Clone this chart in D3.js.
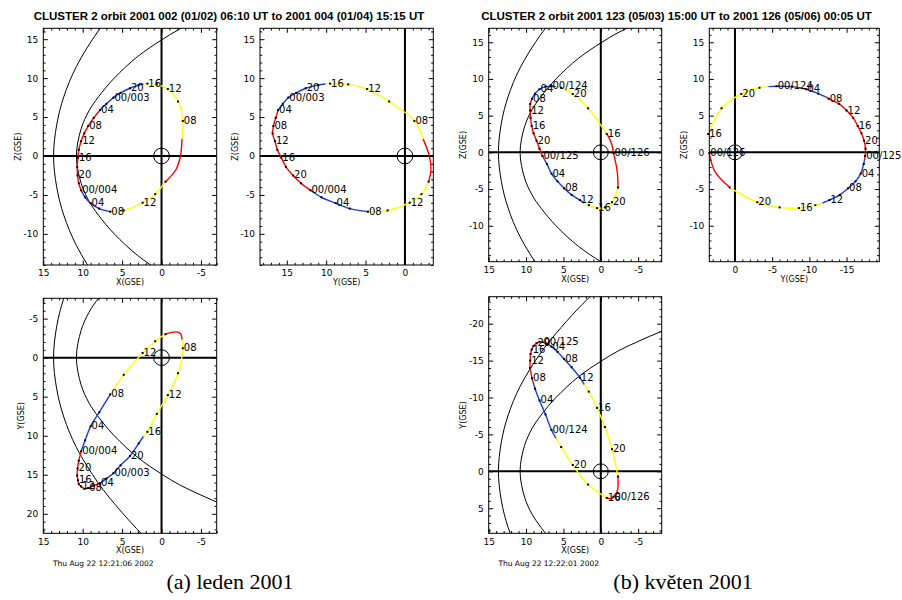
<!DOCTYPE html>
<html><head><meta charset="utf-8">
<script src="https://cdn.jsdelivr.net/npm/d3@7"></script>
<style>body{margin:0;background:#fff}svg{display:block}</style>
</head><body>
<svg id="c" width="902" height="600"></svg>
<script>
// ---------------- DATA ----------------
const titles = [
  "CLUSTER 2 orbit 2001 002 (01/02) 06:10 UT to 2001 004 (01/04) 15:15 UT",
  "CLUSTER 2 orbit 2001 123 (05/03) 15:00 UT to 2001 126 (05/06) 00:05 UT"
];
const dates = ["Thu Aug 22 12:21:06 2002", "Thu Aug 22 12:22:01 2002"];
const captions = ["(a) leden 2001", "(b) květen 2001"];

// January orbit: hours from 2001-002 00:00 UT, GSE position (RE)
const janHour = [6.17,6.6,7.0,7.4,8,10,12,14,16,16.7,18,20,22,24,26,28,30,32,34,36,38,40,42,44,46,48,50,52,54,56,58,60,62,63.25];
const janX = [-0.5,-1.8,-2.4,-2.6,-2.7,-2.1,-0.8,0.6,1.8,2.3,2.9,4.0,5.2,6.1,7.0,7.8,8.6,9.3,9.8,10.2,10.5,10.6,10.7,10.65,10.5,10.2,9.7,9.0,7.9,6.5,4.8,2.4,0.8,-0.5];
const janY = [-3.0,-3.3,-3.1,-2.3,-1.2,2.0,4.8,7.2,9.5,10.1,11.0,12.6,13.8,14.8,15.5,16.1,16.4,16.7,16.8,16.5,16.2,15.7,15.1,14.2,13.2,12.0,10.6,8.8,7.0,4.7,2.2,-0.6,-2.1,-3.0];
const janZ = [-3.3,-1.8,0.0,2.2,4.5,7.0,8.6,9.2,9.3,9.25,9.1,8.7,8.1,7.5,6.7,5.9,4.9,3.85,2.9,1.9,0.8,-0.2,-1.4,-2.5,-3.5,-4.4,-5.3,-6.05,-6.75,-7.15,-7.0,-6.0,-4.9,-3.3];
const janText = [null,null,null,null,"08","","12","","16",null,"","20","","00/003","","04","","08","","12","","16","","20","","00/004","","04","","08","","12","",""];
const janBreak = [6.17,7.4,16.7,28,48,56,63.25];
const janColor = ["red","yellow","blue","red","blue","yellow"];

// May orbit: hours from 2001-123 00:00 UT
const mayHour = [15,15.5,16,18,20,22,23,24,26,28,30,31.5,32,34,36,38,40,42,44,46,48,49,50,52,54,56,58,60,61,62,64,66,68,70,71,72.08];
const mayX = [-1.7,-1.4,-0.8,1.7,3.75,5.3,6.0,6.6,7.4,8.2,8.8,9.1,9.2,9.45,9.45,9.4,9.25,9.0,8.6,8.2,7.8,7.5,7.2,6.6,5.8,4.9,3.9,2.8,2.2,1.6,0.5,-0.55,-1.5,-2.3,-2.2,-1.7];
const mayY = [3.45,3.7,3.6,1.8,-0.85,-3.3,-4.5,-5.6,-7.7,-9.6,-11.2,-12.2,-12.6,-14.0,-15.0,-15.9,-16.5,-17.0,-17.35,-17.55,-17.5,-17.4,-17.3,-16.9,-16.2,-15.2,-14.1,-12.7,-11.75,-10.8,-8.6,-6.0,-3.0,0.7,2.7,3.45];
const mayZ = [-0.1,1.3,2.5,6.0,7.95,8.8,8.95,9.0,8.95,8.6,8.0,7.55,7.3,6.6,5.7,4.7,3.6,2.6,1.6,0.5,-0.5,-1.05,-1.6,-2.9,-3.95,-4.9,-5.8,-6.5,-6.9,-7.2,-7.6,-7.5,-6.8,-4.8,-2.6,-0.1];
const mayText = [null,null,"16","","20","",null,"00/124","","04","",null,"08","","12","","16","","20","","00/125",null,"","04","","08","","12",null,"","16","","20","",null,"00/126"];
const mayBreak = [15,16,23,31.5,49,61,70,72.08];
const mayColor = ["red","yellow","blue","red","blue","yellow","red"];

// model boundaries (axisymmetric): distance along X vs radial distance
const bsX = [13.7,13.3,12.4,10.8,8.0,5.3,2.5,0.0];
const bsR = [0,4,7.6,11.5,16.1,19.5,22.6,25.0];
const mpX = [10.8,10.2,9.2,8.0,6.0,3.0,0.0,-2.3,-5.0,-8.0,-11.0];
const mpR = [0,3.5,5.8,7.6,10.0,12.8,14.9,16.3,17.6,18.9,19.9];

// ---------------- STYLE / LAYOUT ----------------
const COLORS = {red:"#ff0000", yellow:"#ffff00", blue:"#1a3cd8"};
const SANS = "'DejaVu Sans', sans-serif";
const panels = [
  {orb:0, h:"X", v:"Z", l:43.3, r:216.7, t:28.3, b:265,   xd:[15,-7.0],   yd:[16.4,-14.0], xt:"X(GSE)", yt:"Z(GSE)", bnd:true},
  {orb:0, h:"Y", v:"Z", l:260,  r:433.3, t:28.3, b:265,   xd:[18.4,-3.6], yd:[16.4,-14.0], xt:"Y(GSE)", yt:"Z(GSE)", bnd:false},
  {orb:0, h:"X", v:"Y", l:43.3, r:216.7, t:298.3, b:533.3, xd:[15,-7.0],  yd:[-7.6,22.5],  xt:"X(GSE)", yt:"Y(GSE)", bnd:true, date:0},
  {orb:1, h:"X", v:"Z", l:488.7, r:661.7, t:28.3, b:261.7, xd:[15,-8.15], yd:[16.9,-14.9], xt:"X(GSE)", yt:"Z(GSE)", bnd:true},
  {orb:1, h:"Y", v:"Z", l:709.3, r:879.3, t:28.3, b:261.7, xd:[3.45,-19.4], yd:[16.9,-14.9], xt:"Y(GSE)", yt:"Z(GSE)", bnd:false},
  {orb:1, h:"X", v:"Y", l:488.7, r:661.7, t:296.7, b:533.3, xd:[15,-8.15], yd:[-23.66,8.4], xt:"X(GSE)", yt:"Y(GSE)", bnd:true, date:1}
];
const orbits = [
  {hour:janHour, X:janX, Y:janY, Z:janZ, text:janText, brk:janBreak, col:janColor},
  {hour:mayHour, X:mayX, Y:mayY, Z:mayZ, text:mayText, brk:mayBreak, col:mayColor}
];

const svg = d3.select("#c");
svg.append("rect").attr("width",902).attr("height",600).attr("fill","#fff");

// titles
const titleX = [229, 676.5];
titles.forEach((t,i)=>{
  svg.append("text").attr("x",titleX[i]).attr("y",20).attr("text-anchor","middle")
    .attr("font-family","'Liberation Sans', Arial, sans-serif").attr("font-weight","bold")
    .attr("font-size",11.5).text(t);
});

const fmt = d => d < 0 ? "-" + (-d) : String(d);

panels.forEach((p,pi)=>{
  const g = svg.append("g");
  const sx = d3.scaleLinear().domain(p.xd).range([p.l,p.r]);
  const sy = d3.scaleLinear().domain(p.yd).range([p.t,p.b]);
  const cid = "clip"+pi;
  g.append("clipPath").attr("id",cid).append("rect")
    .attr("x",p.l).attr("y",p.t).attr("width",p.r-p.l).attr("height",p.b-p.t);
  const inner = g.append("g").attr("clip-path",`url(#${cid})`);

  // model boundaries
  if (p.bnd) {
    [[bsX,bsR],[mpX,mpR]].forEach(([bx,br])=>{
      const pts = [];
      for (let i=bx.length-1;i>0;i--) pts.push([bx[i],-br[i]]);
      for (let i=0;i<bx.length;i++) pts.push([bx[i],br[i]]);
      inner.append("path")
        .attr("d", d3.line().x(d=>sx(d[0])).y(d=>sy(d[1])).curve(d3.curveCatmullRom)(pts))
        .attr("fill","none").attr("stroke","#000").attr("stroke-width",1);
    });
  }
  // axes through origin
  inner.append("line").attr("x1",sx(0)).attr("x2",sx(0)).attr("y1",p.t).attr("y2",p.b)
    .attr("stroke","#000").attr("stroke-width",2);
  inner.append("line").attr("x1",p.l).attr("x2",p.r).attr("y1",sy(0)).attr("y2",sy(0))
    .attr("stroke","#000").attr("stroke-width",2);
  // Earth
  inner.append("circle").attr("cx",sx(0)).attr("cy",sy(0))
    .attr("r",Math.abs(sx(1)-sx(0))).attr("fill","none").attr("stroke","#000").attr("stroke-width",1);

  // orbit
  const o = orbits[p.orb];
  const H = o[p.h], V = o[p.v];
  const line = d3.line().x(i=>sx(H[i])).y(i=>sy(V[i])).curve(d3.curveCatmullRom);
  for (let s=0;s<o.col.length;s++){
    const idx = d3.range(o.hour.length).filter(i=>o.hour[i]>=o.brk[s]-1e-6 && o.hour[i]<=o.brk[s+1]+1e-6);
    inner.append("path").attr("d",line(idx)).attr("fill","none")
      .attr("stroke",COLORS[o.col[s]]).attr("stroke-width",1.4);
  }
  // dots and labels
  o.text.forEach((t,i)=>{
    if (t===null) return;
    g.append("rect").attr("x",sx(H[i])-1).attr("y",sy(V[i])-1).attr("width",2).attr("height",2).attr("fill","#000");
    if (t!=="") g.append("text").attr("x",sx(H[i])+1).attr("y",sy(V[i])-0.5)
      .attr("dominant-baseline","central").attr("font-family",SANS).attr("font-size",10).text(t);
  });

  // box
  g.append("rect").attr("x",p.l).attr("y",p.t).attr("width",p.r-p.l).attr("height",p.b-p.t)
    .attr("fill","none").attr("stroke","#000").attr("stroke-width",1);

  // ticks
  const inDom = (d,dom)=> d>=Math.min(...dom)-1e-9 && d<=Math.max(...dom)+1e-9;
  const majX = d3.range(-30,31,5).filter(d=>inDom(d,p.xd));
  const minX = d3.range(-30,31,1).filter(d=>inDom(d,p.xd) && d%5!==0);
  const majY = d3.range(-30,31,5).filter(d=>inDom(d,p.yd));
  const minY = d3.range(-30,31,1).filter(d=>inDom(d,p.yd) && d%5!==0);
  const style = a => a.call(s=>s.select(".domain").remove()).call(s=>s.selectAll("line").attr("stroke","#000"));
  const font = a => a.selectAll("text").attr("font-family",SANS).attr("font-size",9).attr("fill","#000");

  g.append("g").attr("transform",`translate(0,${p.b})`)
    .call(d3.axisBottom(sx).tickValues(majX).tickSize(-4.5).tickPadding(5).tickFormat(fmt)).call(style).call(font);
  g.append("g").attr("transform",`translate(0,${p.b})`)
    .call(d3.axisBottom(sx).tickValues(minX).tickSize(-2.2).tickFormat("")).call(style);
  g.append("g").attr("transform",`translate(0,${p.t})`)
    .call(d3.axisTop(sx).tickValues(majX).tickSize(-4.5).tickFormat("")).call(style);
  g.append("g").attr("transform",`translate(0,${p.t})`)
    .call(d3.axisTop(sx).tickValues(minX).tickSize(-2.2).tickFormat("")).call(style);
  const yax = g.append("g").attr("transform",`translate(${p.l},0)`)
    .call(d3.axisLeft(sy).tickValues(majY).tickSize(-4.5).tickPadding(5).tickFormat(fmt)).call(style).call(font);
  g.append("g").attr("transform",`translate(${p.l},0)`)
    .call(d3.axisLeft(sy).tickValues(minY).tickSize(-2.2).tickFormat("")).call(style);
  g.append("g").attr("transform",`translate(${p.r},0)`)
    .call(d3.axisRight(sy).tickValues(majY).tickSize(-4.5).tickFormat("")).call(style);
  g.append("g").attr("transform",`translate(${p.r},0)`)
    .call(d3.axisRight(sy).tickValues(minY).tickSize(-2.2).tickFormat("")).call(style);

  // axis titles
  g.append("text").attr("x",(p.l+p.r)/2).attr("y",p.b+20).attr("text-anchor","middle")
    .attr("font-family",SANS).attr("font-size",8).text(p.xt);
  let minLabelX = 0;
  yax.selectAll("text").each(function(){ const b=this.getBBox(); minLabelX=Math.min(minLabelX,b.x); });
  const tx = p.l + minLabelX - 2.5, ty = (p.t+p.b)/2;
  g.append("text").attr("transform",`translate(${tx},${ty}) rotate(-90)`).attr("text-anchor","middle")
    .attr("font-family",SANS).attr("font-size",8).text(p.yt);

  if (p.date!==undefined) {
    g.append("text").attr("x",p.l+60).attr("y",p.b+32.5).attr("text-anchor","middle")
      .attr("font-family",SANS).attr("font-size",7.5).text(dates[p.date]);
  }
});

// captions
const capX = [230, 683];
captions.forEach((c,i)=>{
  svg.append("text").attr("x",capX[i]).attr("y",589).attr("text-anchor","middle")
    .attr("font-family","'Liberation Serif', 'DejaVu Serif', serif").attr("font-size",22).text(c);
});
</script>
</body></html>
